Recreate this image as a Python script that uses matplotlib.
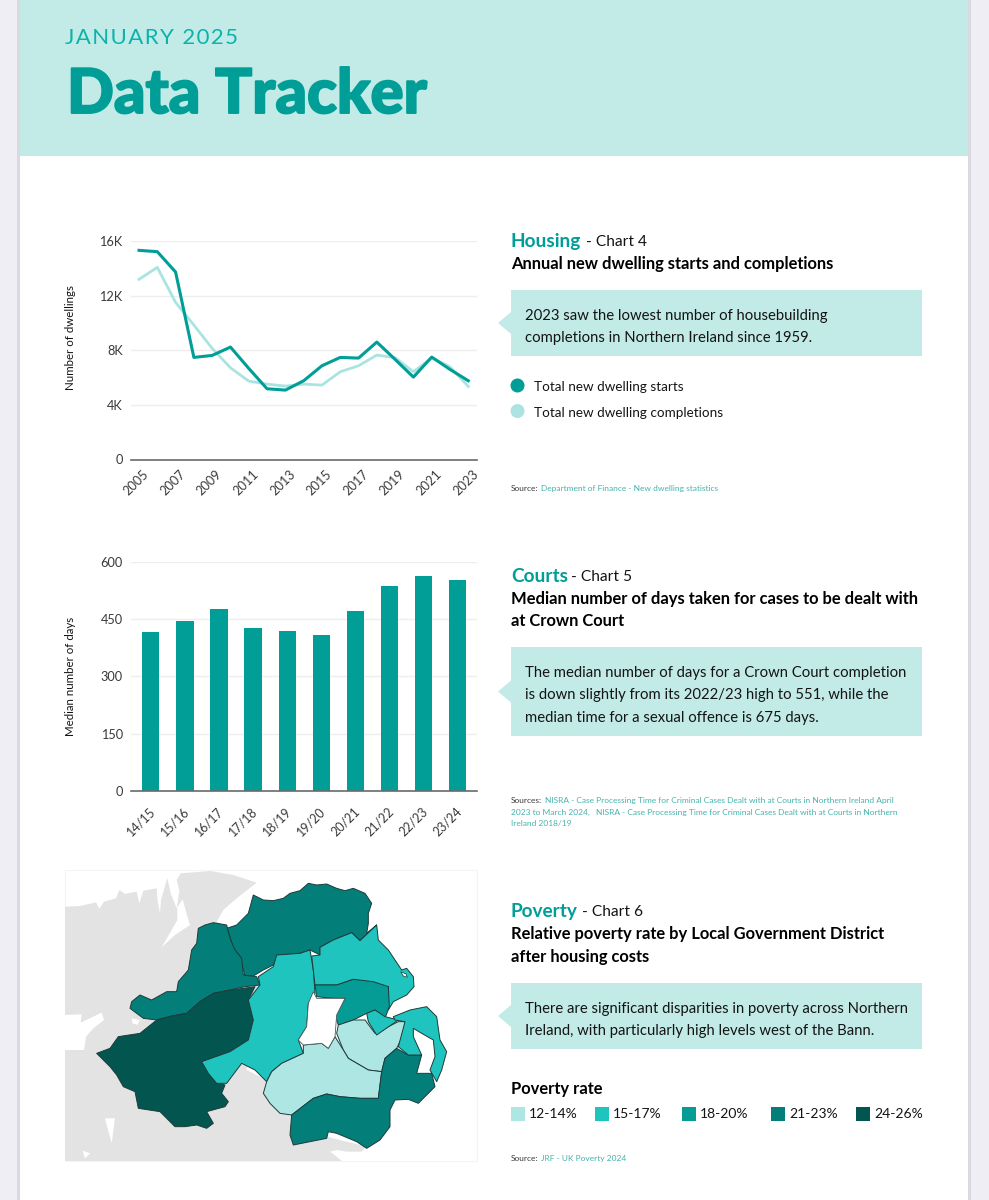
import matplotlib
matplotlib.use("Agg")
import matplotlib.pyplot as plt
import matplotlib.patheffects as pe
from matplotlib.patches import Polygon, Rectangle, Circle

plt.rcParams['font.family'] = ['Lato', 'DejaVu Sans']

W, H = 989, 1200
TEAL = '#009e96'; PALE = '#c2ebe8'; LINK = '#46b3ac'; INK = '#141414'; SOFT = '#3a3a3a'

# ---------- data ----------
years = list(range(2005, 2024))
starts = [15316, 15218, 13728, 7475, 7621, 8232, 6669, 5179, 5081, 5765, 6864, 7475, 7426, 8598, 7328, 6034, 7500, 6595, 5765]
completions = [13190, 14070, 11505, 9844, 8134, 6717, 5740, 5520, 5374, 5520, 5447, 6424, 6864, 7646, 7450, 6424, 7450, 6790, 5350]
line_ticks = [0, 4000, 8000, 12000, 16000]
line_ticklabels = ['0', '4K', '8K', '12K', '16K']

court_years = ['14/15', '15/16', '16/17', '17/18', '18/19', '19/20', '20/21', '21/22', '22/23', '23/24']
court_days = [416, 445, 476, 426, 418, 409, 471, 536, 562, 551]
court_ticks = [0, 150, 300, 450, 600]

band_labels = ['12-14%', '15-17%', '18-20%', '21-23%', '24-26%']
band_colors = ['#aee6e3', '#1fc4be', '#059c95', '#047e79', '#02564f']

# map outlines (map units) with their poverty band index
land = [(15,110),(60,108),(108,97),(118,116),(132,95),(168,85),(178,60),(195,72),(230,65),(238,100),(250,62),(290,55),(293,95),(300,130),(303,90),(322,24),(332,70),(350,115),(358,62),(350,30),(362,10),(450,3),(520,15),(590,38),(530,85),(490,120),(470,155),(500,175),(600,350),(560,600),(640,640),(720,740),(800,800),(920,830),(905,845),(860,845),(830,840),(810,845),(830,860),(845,873),(15,873)]
water = [
    [(352,112),(368,88),(378,125),(390,165),(345,195),(305,232),(335,180),(352,150)],
    [(15,435),(65,433),(62,458),(125,428),(132,450),(100,475),(78,500),(72,540),(15,540)],
    [(215,445),(240,450),(232,465),(218,460)],
    [(135,745),(165,745),(155,820)],
    [(68,842),(90,850),(75,865)],
]
causeway = [(500,175),(530,165),(565,130),(580,75),(610,90),(640,92),(670,85),(690,70),(720,62),(745,40),(770,45),(800,42),(830,55),(855,62),(880,55),(915,70),(935,100),(925,130),(925,160),(920,190),(950,165),(900,212),(875,188),(850,198),(820,210),(780,232),(780,255),(750,240),(720,250),(655,255),(640,285),(610,300),(580,318),(555,318),(540,260),(520,235),(510,200)]
derry = [(415,175),(435,165),(460,158),(500,165),(510,205),(525,240),(545,265),(550,315),(590,320),(600,345),(555,350),(500,362),(460,370),(420,395),(380,430),(335,438),(290,450),(250,445),(210,415),(215,395),(240,375),(275,390),(320,365),(350,365),(355,335),(385,300),(395,240),(410,220)]
fermanagh = [(585,350),(565,390),(580,450),(565,510),(510,545),(425,575),(445,610),(465,635),(495,645),(485,670),(505,695),(495,710),(440,725),(460,760),(440,775),(410,765),(375,770),(345,770),(320,745),(300,725),(235,715),(225,665),(190,650),(170,615),(150,590),(110,550),(150,535),(175,500),(240,490),(290,450),(335,438),(380,430),(420,395),(460,370),(500,362)]
mid_ulster = [(650,255),(720,250),(750,240),(760,300),(765,370),(745,400),(740,470),(715,510),(730,550),(665,580),(635,605),(620,635),(610,625),(585,600),(545,580),(500,640),(470,640),(445,610),(425,575),(510,545),(565,510),(580,450),(565,390),(600,345),(595,320),(640,290)]
east_antrim = [(755,258),(780,255),(780,232),(820,210),(850,198),(875,188),(900,212),(950,165),(955,210),(985,240),(1005,270),(1025,300),(1040,295),(1060,320),(1062,350),(1040,375),(1000,395),(985,420),(985,350),(950,345),(915,335),(880,328),(830,345),(765,345)]
antrim = [(765,345),(830,345),(880,328),(940,335),(985,350),(988,410),(975,445),(945,420),(920,430),(880,450),(835,465),(825,435),(855,385),(820,385),(770,380)]
lisburn = [(835,465),(880,450),(915,450),(945,490),(1015,455),(1035,455),(1030,495),(1010,535),(975,565),(965,605),(925,600),(865,565),(850,540),(830,490)]
belfast = [(920,430),(945,420),(975,440),(1015,450),(950,495),(925,455)]
armagh = [(730,525),(785,520),(805,535),(825,500),(850,540),(865,565),(925,600),(965,605),(955,685),(900,685),(840,680),(800,672),(760,685),(695,735),(660,730),(630,700),(610,670),(620,635),(635,605),(665,580),(730,550)]
newry = [(1010,535),(1045,555),(1085,555),(1070,610),(1115,610),(1125,650),(1075,700),(1045,688),(1005,690),(990,720),(990,770),(960,810),(920,835),(890,815),(830,790),(805,785),(800,805),(700,825),(690,795),(695,735),(760,685),(800,672),(840,680),(900,685),(955,685),(965,605),(975,565)]
ards = [(1000,440),(1050,420),(1100,410),(1130,440),(1140,510),(1160,545),(1145,600),(1130,635),(1110,600),(1125,560),(1120,510),(1085,490),(1060,475),(1060,500),(1085,555),(1045,555),(1015,530),(1035,455),(1005,450)]
lough_neagh = [(760,365),(770,385),(855,385),(830,435),(825,500),(805,535),(785,520),(730,525),(715,510),(740,470),(745,400)]
larne_lough = [(1022,305),(1038,312),(1042,322),(1030,318)]
districts = [(causeway,3),(derry,3),(fermanagh,4),(mid_ulster,1),(east_antrim,1),(antrim,2),(lisburn,0),(belfast,1),(armagh,0),(newry,3),(ards,1)]

# ---------- page ----------
fig = plt.figure(figsize=(W/100, H/100), dpi=100, facecolor='#efeef4')
page = fig.add_axes([0, 0, 1, 1], zorder=0)
page.set_xlim(0, W); page.set_ylim(H, 0); page.axis('off')

page.add_patch(Rectangle((17, 0), 954, H, fc='#d9d9e0', ec='none'))
page.add_patch(Rectangle((20, 0), 948, H, fc='white', ec='none'))
page.add_patch(Rectangle((20, 0), 948, 156, fc=PALE, ec='none'))
page.text(65, 38, '\u200a'.join('JANUARY 2025'), fontsize=16, color='#0bb3aa', va='center', ha='left')
page.text(67, 94.5, 'Data Tracker', fontsize=44.4, fontweight=900, color=TEAL, va='center', ha='left',
          path_effects=[pe.withStroke(linewidth=1.4, foreground=TEAL)])


def panel(rect):
    x0, y0, x1, y1 = rect
    return fig.add_axes([x0/W, 1-y1/H, (x1-x0)/W, (y1-y0)/H], zorder=2)


def style_axes(ax, ylabel, xsize, xpad):
    for s in ['top', 'left', 'right']:
        ax.spines[s].set_visible(False)
    ax.spines['bottom'].set_color('#6a6a6a'); ax.spines['bottom'].set_linewidth(1.2)
    ax.grid(axis='y', color='#eeeeee', lw=1); ax.set_axisbelow(True)
    ax.tick_params(axis='y', length=0, labelsize=9.2, labelcolor=SOFT, pad=6)
    ax.tick_params(axis='x', length=0, labelsize=xsize, labelcolor=SOFT, pad=xpad)
    ax.set_ylabel(ylabel, fontsize=8.3, color=INK)
    ax.yaxis.set_label_coords(-0.159, 0.5 if 'dwell' not in ylabel else 0.56)
    ax.patch.set_alpha(0)


# ---------- line chart ----------
ax = panel((131, 241, 477, 459.5))
ax.plot(years, completions, color='#a9e4e0', lw=2)
ax.plot(years, starts, color=TEAL, lw=2.2)
ax.set_xlim(2005 - 8/18.3, 2023 + 8.7/18.3); ax.set_ylim(0, 16000)
ax.set_yticks(line_ticks, line_ticklabels)
ax.set_xticks([y + 0.2 for y in years[::2]], [str(y) for y in years[::2]], rotation=45, ha='right', rotation_mode='anchor')
style_axes(ax, 'Number of dwellings', 9.2, 6)

# ---------- bar chart ----------
ax = panel((131, 561.7, 477, 791))
ax.bar(range(len(court_days)), court_days, width=0.51, color=TEAL)
ax.set_xlim(-0.58, 9.565); ax.set_ylim(0, 600)
ax.set_yticks(court_ticks)
ax.set_xticks([i - 0.06 for i in range(len(court_years))], court_years, rotation=45, ha='right', rotation_mode='anchor')
style_axes(ax, 'Median number of days', 9, 10)

# ---------- map ----------
ax = panel((65, 870, 477, 1161))
ax.set_xlim(15, 1251); ax.set_ylim(873, 0); ax.axis('off')
ax.add_patch(Rectangle((15, 0), 1236, 873, fc='none', ec='#f4f4f4', lw=0.8, clip_on=False))
ax.add_patch(Polygon(land, fc='#e3e3e3', ec='none'))
for w in water:
    ax.add_patch(Polygon(w, fc='white', ec='none'))
for poly, band in districts:
    ax.add_patch(Polygon(poly, fc=band_colors[band], ec='#1d3b3a', lw=0.7, joinstyle='round'))
ax.add_patch(Polygon(lough_neagh, fc='white', ec='#4a5a5a', lw=0.6))
ax.add_patch(Polygon(larne_lough, fc='white', ec='#1d3b3a', lw=0.5))


# ---------- right column ----------
def callout(y0, y1, lines):
    ym = (y0 + y1) / 2
    page.add_patch(Polygon([(498, ym), (511, ym-11), (511, y0), (922, y0), (922, y1), (511, y1), (511, ym+11)], fc=PALE, ec='none'))
    for yy, line in lines:
        page.text(525, yy + 2, line, fontsize=10.75, color=INK, va='center', ha='left')


def heading(y, name, chart, chart_x, title_lines):
    page.text(511, y + 1.5, name, fontsize=13.7, fontweight='bold', color=TEAL, va='center', ha='left')
    page.text(chart_x, y + 2, chart, fontsize=11.2, color=INK, va='center', ha='left')
    for yy, line in title_lines:
        page.text(511, yy + 2, line, fontsize=11.9, fontweight='bold', color='black', va='center', ha='left')


def source(y, label, lines):
    page.text(511, y + 0.5, label, fontsize=6.05, color=SOFT, va='center', ha='left')
    for xx, yy, line in lines:
        page.text(xx, yy + 0.5, line, fontsize=6.05, color=LINK, va='center', ha='left')


heading(240, 'Housing', '- Chart 4', 586, [(262, 'Annual new dwelling starts and completions')])
callout(290, 356, [(314, '2023 saw the lowest number of housebuilding'), (336, 'completions in Northern Ireland since 1959.')])
page.add_patch(Circle((517.5, 385.5), 7, fc=TEAL, ec='none'))
page.add_patch(Circle((517.5, 411), 7, fc='#ace3e0', ec='none'))
page.text(534, 387, 'Total new dwelling starts', fontsize=9.75, color=INK, va='center')
page.text(534, 413, 'Total new dwelling completions', fontsize=9.75, color=INK, va='center')
source(488, 'Source:', [(541, 488, 'Department of Finance - New dwelling statistics')])

heading(575, 'Courts', '- Chart 5', 571, [(597, 'Median number of days taken for cases to be dealt with'), (619, 'at Crown Court')])
callout(647, 736, [(671, 'The median number of days for a Crown Court completion'), (693, 'is down slightly from its 2022/23 high to 551, while the'), (716, 'median time for a sexual offence is 675 days.')])
source(800, 'Sources:', [(545, 800, 'NISRA - Case Processing Time for Criminal Cases Dealt with at Courts in Northern Ireland April'), (511, 811.5, '2023 to March 2024,'), (596, 811.5, 'NISRA - Case Processing Time for Criminal Cases Dealt with at Courts in Northern'), (511, 823, 'Ireland 2018/19')])

heading(910, 'Poverty', '- Chart 6', 582, [(932, 'Relative poverty rate by Local Government District'), (955, 'after housing costs')])
callout(983, 1049, [(1007, 'There are significant disparities in poverty across Northern'), (1029, 'Ireland, with particularly high levels west of the Bann.')])
page.text(511, 1089, 'Poverty rate', fontsize=11.9, fontweight='bold', color='black', va='center')
swatch_x = [511, 595, 682, 771, 856]
for sx, col, lab in zip(swatch_x, band_colors, band_labels):
    page.add_patch(Rectangle((sx, 1107), 13.5, 13.5, fc=col, ec='none'))
    page.text(sx + 18, 1114.5, lab, fontsize=10, color=INK, va='center')
source(1158, 'Source:', [(541, 1158, 'JRF - UK Poverty 2024')])

fig.savefig('out.png', dpi=100, facecolor=fig.get_facecolor())
